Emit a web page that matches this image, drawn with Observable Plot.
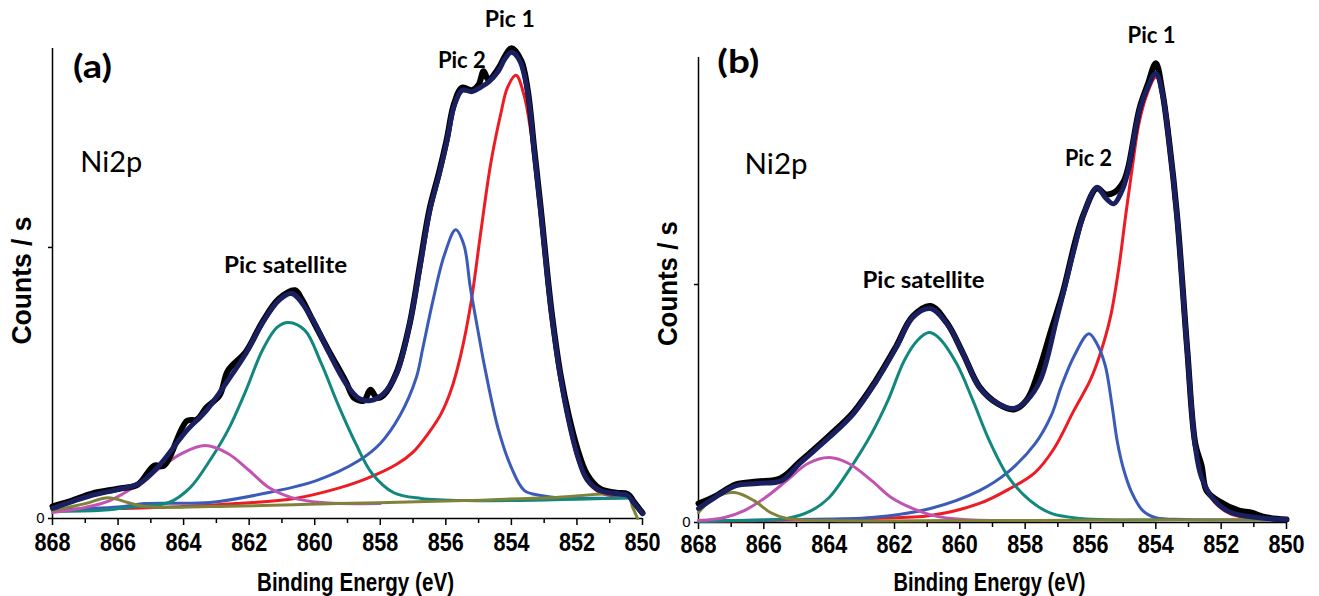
<!DOCTYPE html>
<html>
<head>
<meta charset="utf-8">
<script src="https://cdn.jsdelivr.net/npm/d3@7"></script>
<script src="https://cdn.jsdelivr.net/npm/@observablehq/plot@0.6"></script>
<style>
  body { margin: 0; background: #fff; }
  #wrap { display: flex; width: 1319px; height: 596px; background: #fff; }
</style>
</head>
<body>
<div id="wrap"></div>
<script>
// ---------- shared axis content ----------
const xTicksMajor = [868, 866, 864, 862, 860, 858, 856, 854, 852, 850];
const xTicksMinor = [867, 865, 863, 861, 859, 857, 855, 853, 851];
const yTicks = [0, 10];
const axisTitleX = "Binding Energy (eV)";
const axisTitleY = "Counts / s";

// ---------- panel (a) : [binding energy eV, counts (arb.)] ----------
const aRaw = [[868,0.45],[867.5,0.62],[866.8,0.92],[866.0,1.10],[865.4,1.25],[864.9,1.95],[864.6,1.95],[863.9,3.6],[863.6,3.65],[863.3,4.10],[862.9,4.55],[862.65,5.45],[862.1,6.15],[861.6,7.25],[861.1,8.1],[860.6,8.42],[860.4,8.1],[860.1,7.4],[859.6,6.25],[859.05,5.05],[858.8,4.45],[858.5,4.35],[858.3,4.75],[858.1,4.45],[857.9,4.55],[857.5,5.4],[857.1,7.2],[856.8,9.3],[856.5,11.4],[856.2,12.8],[855.97,14.0],[855.75,15.3],[855.5,15.9],[855.2,15.8],[855.0,16.0],[854.85,16.5],[854.7,16.2],[854.4,16.6],[854.2,17.05],[854.0,17.35],[853.7,16.9],[853.5,15.8],[853.3,13.6],[853.1,11.4],[852.9,9.0],[852.75,7.4],[852.5,5.3],[852.25,3.8],[851.98,2.55],[851.7,1.65],[851.3,1.1],[850.8,0.95],[850.45,0.9],[850.25,0.6],[850.0,0.2]];
const aEnvelope = [[868,0.37],[866.8,0.85],[866.0,1.07],[865.35,1.29],[864.8,1.88],[863.9,3.25],[863.3,3.99],[862.65,5.09],[862.1,6.09],[861.6,7.20],[861.1,8.04],[860.7,8.30],[860.1,7.42],[859.6,6.20],[859.05,4.98],[858.65,4.43],[858.3,4.35],[857.9,4.61],[857.5,5.35],[857.1,7.2],[856.8,9.2],[856.5,11.3],[856.2,12.7],[855.97,13.9],[855.75,15.2],[855.5,15.8],[855.2,15.75],[854.95,15.9],[854.7,16.1],[854.4,16.5],[854.2,16.95],[854.0,17.20],[853.75,16.9],[853.5,15.7],[853.3,13.5],[853.1,11.3],[852.9,8.9],[852.75,7.3],[852.5,5.2],[852.25,3.6],[851.98,2.3],[851.7,1.45],[851.3,1.03],[850.8,0.92],[850.45,0.85],[850.25,0.55],[850.0,0.18]];
const aPic1 = [[868,0.30],[866,0.37],[864,0.44],[862.4,0.55],[860.6,0.74],[859.3,1.11],[858.4,1.48],[857.5,2.0],[857.0,2.45],[856.5,3.2],[856.15,3.85],[855.85,4.7],[855.55,6.0],[855.24,7.9],[854.93,10.6],[854.63,13.1],[854.32,14.95],[854.12,15.9],[853.86,16.35],[853.61,15.6],[853.4,14.2],[853.1,11.2],[852.9,8.8],[852.75,7.2],[852.5,5.1],[852.25,3.5],[851.98,2.2],[851.7,1.4],[851.3,0.96],[850.8,0.81],[850.3,0.77]];
const aPic2 = [[868,0.33],[866,0.42],[865.2,0.55],[863.2,0.59],[861.4,0.96],[859.95,1.40],[858.65,2.14],[858.0,2.77],[857.4,3.8],[856.9,5.2],[856.7,6.3],[856.4,8.0],[856.05,9.7],[855.7,10.65],[855.45,10.1],[855.25,8.5],[855.0,6.8],[854.8,5.5],[854.4,3.3],[854.0,1.88],[853.6,1.03],[853.1,0.85],[852.6,0.77],[850.3,0.77]];
const aSatellite = [[868,0.26],[866.5,0.30],[865.7,0.41],[864.45,0.59],[863.8,1.14],[863.2,2.14],[862.65,3.25],[862.1,4.72],[861.6,6.20],[861.15,7.05],[860.8,7.23],[860.3,6.94],[859.8,5.72],[859.3,4.24],[858.75,2.77],[858.25,1.66],[857.6,0.96],[856.75,0.74],[855.45,0.66],[850.3,0.77]];
const aSatellite2 = [[868,0.22],[867,0.41],[866.25,0.66],[865.35,1.29],[864.7,1.88],[864.05,2.40],[863.35,2.69],[862.65,2.40],[862.0,1.77],[861.4,1.14],[860.7,0.77],[859.8,0.59],[858.0,0.55]];
const aBackground = [[868,0.30],[867,0.55],[866.3,0.77],[865.7,0.59],[865.2,0.44],[863.2,0.44],[859.3,0.55],[855.45,0.66],[852.8,0.77],[850.45,0.81],[850.3,0.41],[850.15,0.0]];
const aTag = [{label: "(a)", energy: 866.78, counts: 16.27}];
const aElement = [{label: "Ni2p", energy: 867.15, counts: 12.77}];
const aPeaks = [
  {label: "Pic 1", energy: 854.05, counts: 18.12},
  {label: "Pic 2", energy: 855.51, counts: 16.61},
  {label: "Pic satellite", energy: 860.89, counts: 9.04}
];
const aYTitle = [{label: axisTitleY, energy: 868, counts: 8.78}];

// ---------- panel (b) ----------
const bRaw = [[868,0.80],[867.5,1.10],[866.85,1.6],[866.2,1.72],[865.5,1.85],[864.9,2.55],[864.0,3.65],[863.25,4.65],[862.6,5.9],[861.95,7.4],[861.45,8.65],[860.9,9.1],[860.4,8.4],[859.9,7.1],[859.4,5.7],[858.85,5.0],[858.35,4.75],[857.95,5.15],[857.6,6.3],[857.2,8.1],[856.85,9.65],[856.45,11.9],[856.2,13.0],[855.8,14.05],[855.55,13.8],[855.3,13.85],[855.0,14.3],[854.85,14.9],[854.5,17.4],[854.25,18.4],[854.0,19.3],[853.8,18.1],[853.6,16.1],[853.35,12.9],[853.04,7.3],[852.79,3.3],[852.6,2.4],[852.45,1.34],[852.1,0.92],[851.45,0.50],[851.1,0.42],[850.6,0.21],[850.0,0.13]];
const bEnvelope = [[868,0.59],[867.5,1.05],[866.85,1.55],[866.2,1.64],[865.45,1.76],[864.9,2.48],[864.0,3.57],[863.25,4.58],[862.6,5.84],[861.95,7.35],[861.45,8.61],[860.9,8.99],[860.4,8.36],[859.9,7.10],[859.4,5.67],[858.85,5.00],[858.35,4.79],[857.95,5.13],[857.53,6.0],[857.02,8.63],[856.51,11.43],[856.2,12.98],[855.8,14.09],[855.55,13.66],[855.29,13.39],[855.05,13.9],[854.88,14.6],[854.5,17.31],[854.25,18.28],[854.0,18.87],[853.8,18.03],[853.6,16.05],[853.35,12.83],[853.04,7.23],[852.79,3.16],[852.6,1.89],[852.2,0.92],[851.7,0.42],[850.9,0.21],[850.0,0.13]];
const bPic1 = [[868,0.05],[865,0.10],[862.7,0.17],[860.9,0.29],[859.4,0.80],[858.5,1.40],[857.7,2.1],[857.12,3.1],[856.51,4.7],[856.0,6.0],[855.7,7.1],[855.39,8.63],[855.13,10.73],[854.93,12.83],[854.72,14.93],[854.52,16.75],[854.27,18.0],[854.01,18.71],[853.86,18.5],[853.65,17.03],[853.35,12.8],[853.04,7.2],[852.79,3.1],[852.6,1.85],[852.2,0.85],[851.7,0.35],[850.9,0.15],[850.0,0.10]];
const bPic2 = [[868,0.05],[865.3,0.13],[862.7,0.21],[860.9,0.59],[859.4,1.34],[858.5,2.15],[857.7,3.3],[857.2,4.5],[856.9,5.7],[856.5,7.0],[856.05,7.93],[855.8,7.5],[855.55,6.6],[855.35,5.0],[855.18,3.4],[855.0,2.3],[854.75,1.3],[854.4,0.5],[854.0,0.2],[853.1,0.13],[850.0,0.10]];
const bSatellite = [[868,0.04],[867.2,0.08],[865.3,0.17],[864.55,0.50],[864.0,1.05],[863.4,2.18],[862.7,3.74],[862.2,5.13],[861.7,6.81],[861.3,7.65],[860.95,7.98],[860.65,7.77],[860.1,6.68],[859.6,5.13],[859.1,3.45],[858.5,1.89],[857.85,0.92],[857.2,0.38],[856.3,0.17],[854,0.10]];
const bSatellite2 = [[868,0.08],[867.2,0.21],[866.6,0.50],[865.95,1.05],[865.3,1.76],[864.65,2.48],[864.0,2.73],[863.4,2.48],[862.7,1.76],[862.1,1.05],[861.45,0.59],[860.8,0.29],[859.9,0.13],[858,0.08]];
const bBackground = [[868,0.42],[867.5,1.05],[866.9,1.26],[866.3,0.92],[865.8,0.42],[865.3,0.17],[864,0.08],[860,0.08],[855,0.10],[852,0.12],[850,0.10]];
const bTag = [{label: "(b)", energy: 866.78, counts: 18.87}];
const bElement = [{label: "Ni2p", energy: 866.59, counts: 14.66}];
const bPeaks = [
  {label: "Pic 1", energy: 854.13, counts: 20.13},
  {label: "Pic 2", energy: 856.06, counts: 15.0},
  {label: "Pic satellite", energy: 861.11, counts: 9.87}
];
const bYTitle = [{label: axisTitleY, energy: 868, counts: 10.04}];

// ---------- drawing ----------
const SANS = "Liberation Sans, Arial, sans-serif";
const CAL = "Lato, Open Sans, sans-serif";

function drawPanel(p) {
  const X = d => d[0], Y = d => d[1];
  const series = [
    [p.pic1, "#ed1c24", 3],
    [p.pic2, "#3b5bb8", 3],
    [p.sat, "#12877e", 3],
    [p.sat2, "#c154b3", 3],
    [p.bg, "#7f8238", 3],
    [p.raw, "#000000", 6],
    [p.env, "#1a1f5f", 5]
  ];
  const svg = Plot.plot({
    width: p.width,
    height: 596,
    marginLeft: p.ml, marginRight: p.mr, marginTop: p.mt, marginBottom: p.mb,
    x: {domain: [868, 850]},
    y: {domain: [0, p.yMax]},
    style: {fontFamily: SANS, background: "#fff", color: "#000", overflow: "visible"},
    marks: [
      Plot.ruleY([0], {stroke: "#000", strokeWidth: 1.5}),
      Plot.ruleX([868], {stroke: "#000", strokeWidth: 1.5}),
      Plot.axisX({ticks: xTicksMinor, tickSize: 5, tickFormat: () => "", label: null, strokeWidth: 1.5}),
      Plot.axisX({ticks: xTicksMajor, tickSize: 7, tickPadding: p.xPad, tickFormat: d => String(d), label: null,
                  fontSize: 25, fontWeight: "bold", fontFamily: SANS, strokeWidth: 1.5}),
      Plot.axisY({ticks: yTicks, tickSize: 4, tickPadding: 4, tickFormat: d => (d === 0 ? "0" : ""), label: null,
                  fontSize: 15, fontFamily: SANS, strokeWidth: 1.5}),
      ...series.map(([data, c, w]) =>
        Plot.line(data, {x: X, y: Y, stroke: c, strokeWidth: w, curve: "catmull-rom", strokeLinejoin: "round"})),
      Plot.text([axisTitleX], {frameAnchor: "bottom", dx: p.xlDx, dy: p.xlDy, lineAnchor: "bottom", textAnchor: "middle",
                  fontSize: 25, fontWeight: "bold", fontFamily: SANS}),
      Plot.text(p.yTitle, {x: "energy", y: "counts", text: "label", rotate: -90, dx: -30,
                  lineAnchor: "middle", textAnchor: "middle",
                  fontSize: 27, fontWeight: "bold", fontFamily: SANS}),
      Plot.text(p.tag, {x: "energy", y: "counts", text: "label", lineAnchor: "bottom",
                  fontSize: 32, fontWeight: "bold", fontFamily: CAL}),
      Plot.text(p.element, {x: "energy", y: "counts", text: "label", lineAnchor: "bottom", textAnchor: "start",
                  fontSize: 28, fontFamily: CAL}),
      Plot.text(p.peaks, {x: "energy", y: "counts", text: "label", lineAnchor: "bottom",
                  fontSize: 23, fontWeight: "bold", fontFamily: CAL})
    ]
  });
  // fit each text run to the width it occupies in the picture
  svg.querySelectorAll("text").forEach(t => {
    const s = t.textContent;
    const L = /^\d{3}$/.test(s) ? 36 : p.textWidths[s];
    if (L) {
      t.setAttribute("textLength", L);
      t.setAttribute("lengthAdjust", "spacingAndGlyphs");
    }
  });
  return svg;
}

const wrap = document.getElementById("wrap");
wrap.append(drawPanel({
  width: 660, ml: 52, mr: 18, mt: 48, mb: 78, yMax: 17.34, xPad: 8, xlDx: 8, xlDy: 72,
  raw: aRaw, env: aEnvelope, pic1: aPic1, pic2: aPic2, sat: aSatellite, sat2: aSatellite2, bg: aBackground,
  tag: aTag, element: aElement, peaks: aPeaks, yTitle: aYTitle,
  textWidths: {"Binding Energy (eV)": 197, "Counts / s": 128, "Pic satellite": 123, "Pic 1": 50, "Pic 2": 48, "Ni2p": 62, "(a)": 39}
}));
wrap.append(drawPanel({
  width: 659, ml: 38, mr: 33, mt: 57, mb: 74, yMax: 19.54, xPad: 6, xlDx: -3, xlDy: 68,
  raw: bRaw, env: bEnvelope, pic1: bPic1, pic2: bPic2, sat: bSatellite, sat2: bSatellite2, bg: bBackground,
  tag: bTag, element: bElement, peaks: bPeaks, yTitle: bYTitle,
  textWidths: {"Binding Energy (eV)": 192, "Counts / s": 125, "Pic satellite": 122, "Pic 1": 48, "Pic 2": 47, "Ni2p": 63, "(b)": 42}
}));
</script>
</body>
</html>
